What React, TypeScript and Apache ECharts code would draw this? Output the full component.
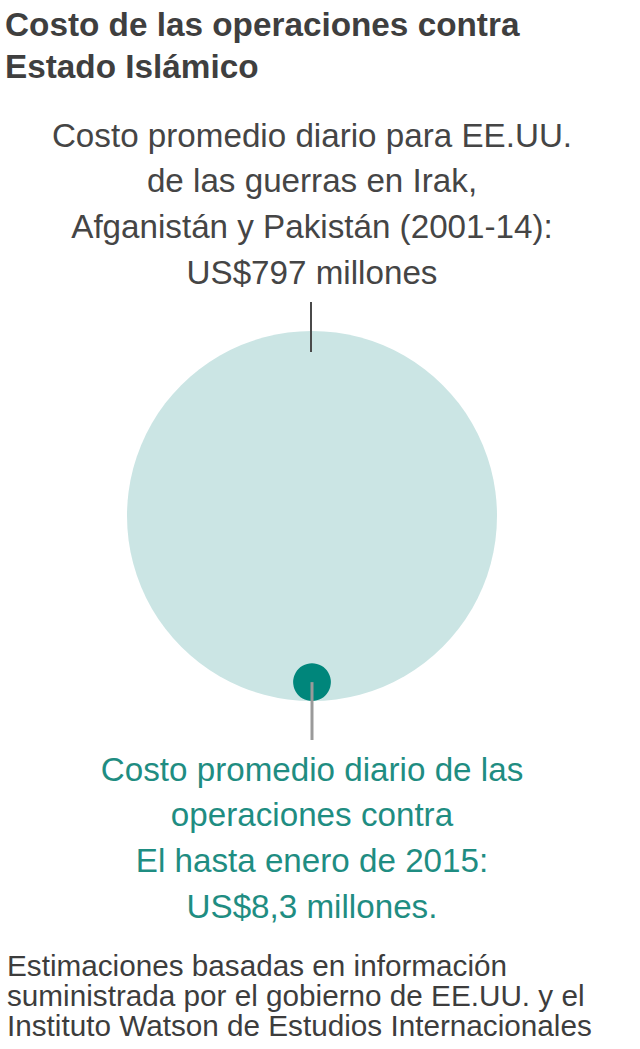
import React, { useEffect, useRef } from "react";
import * as echarts from "echarts";

// costo diario en millones de US$
const labels: string[] = ["Irak, Afganistán y Pakistán (2001-14)", "Operaciones contra EI (hasta enero 2015)"];
const values: number[] = [797, 8.3];
const colors: string[] = ["#cbe5e4", "#00867b"];

const titleLines: string[] = ["Costo de las operaciones contra", "Estado Islámico"];
const topLines: string[] = [
  "Costo promedio diario para EE.UU.",
  "de las guerras en Irak,",
  "Afganistán y Pakistán (2001-14):",
  "US$797 millones",
];
const bottomLines: string[] = [
  "Costo promedio diario de las",
  "operaciones contra",
  "El hasta enero de 2015:",
  "US$8,3 millones.",
];
const sourceLines: string[] = [
  "Estimaciones basadas en información",
  "suministrada por el gobierno de EE.UU. y el",
  "Instituto Watson de Estudios Internacionales",
];

const FONT = '"Liberation Sans", Arial, Helvetica, sans-serif';
const CX = 312; // centro horizontal de los círculos
const BASE_Y = 701; // borde inferior común de los círculos
const MAX_D = 370; // diámetro del círculo mayor

const App: React.FC = () => {
  const chartRef = useRef<HTMLDivElement>(null);

  useEffect(() => {
    if (!chartRef.current) return undefined;
    const chart = echarts.init(chartRef.current, undefined, { renderer: "svg" });
    const maxV = Math.max(...values);
    const sizeOf = (v: number) => MAX_D * Math.sqrt(v / maxV);
    const smallR = sizeOf(values[1]) / 2;

    const textEl = (text: string, x: number, y: number, size: number, fill: string, align: string, weight = "normal") => ({
      type: "text",
      x,
      y,
      silent: true,
      style: {
        text,
        fill,
        font: `${weight} ${size}px ${FONT}`,
        textAlign: align,
        textVerticalAlign: "middle",
      },
    });

    const graphics: any[] = [
      ...titleLines.map((t, i) => textEl(t, 5, 24 + i * 42, 33.3, "#3f3f3f", "left", "bold")),
      ...topLines.map((t, i) => textEl(t, CX, 135 + i * 45.7, 33.2, "#454545", "center")),
      ...bottomLines.map((t, i) => textEl(t, CX, 769 + i * 45.7, 33.2, "#1f8d82", "center")),
      ...sourceLines.map((t, i) => textEl(t, 7, 965 + i * 30, 29.7, "#3d3d3d", "left")),
      {
        type: "line",
        silent: true,
        shape: { x1: CX - 1, y1: 302, x2: CX - 1, y2: 352 },
        style: { stroke: "#4a4a4a", lineWidth: 2 },
        z: 10,
      },
      {
        type: "line",
        silent: true,
        shape: { x1: CX, y1: BASE_Y - smallR, x2: CX, y2: 740 },
        style: { stroke: "#9a9a9a", lineWidth: 3 },
        z: 10,
      },
    ];

    const options: echarts.EChartsOption = {
      animation: false,
      grid: { left: 0, width: CX * 2, top: 0, bottom: 1049 - BASE_Y },
      xAxis: { type: "value", min: -1, max: 1, show: false },
      yAxis: { type: "value", min: 0, max: 1, show: false },
      series: [
        {
          type: "scatter",
          silent: true,
          data: values.map((v, i) => ({
            name: labels[i],
            value: [0, 0],
            symbolSize: sizeOf(v),
            symbolOffset: [0, -sizeOf(v) / 2],
            itemStyle: { color: colors[i], opacity: 1 },
          })),
        },
      ],
      graphic: graphics,
    };
    chart.setOption(options);

    return () => {
      chart.dispose();
    };
  }, []);

  return (
    <div
      ref={chartRef}
      style={{ position: "absolute", left: 0, top: 0, width: "640px", height: "1049px", background: "#fff" }}
    />
  );
};

export default App;
